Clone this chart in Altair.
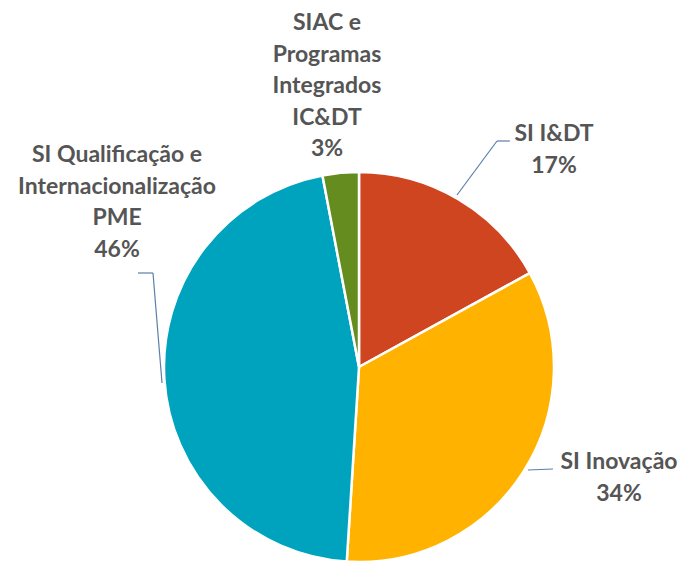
import altair as alt
import pandas as pd

# ---- data ----
categories = ["SI I&DT", "SI Inovação", "SI Qualificação e Internacionalização PME",
              "SIAC e Programas Integrados IC&DT"]
label_lines = [["SI I&DT"], ["SI Inovação"],
               ["SI Qualificação e", "Internacionalização", "PME"],
               ["SIAC e", "Programas", "Integrados", "IC&DT"]]
values = [17, 34, 46, 3]
colors = ["#CF4520", "#FFB300", "#00A3BE", "#648C1E"]

# ---- layout (pixel positions inside the chart; y = first line) ----
W, H = 670, 554
CX, CY, R = 351, 359, 195
label_pos = [(546, 126), (611, 454), (109, 147), (319, 15)]
leaders = [
    [(449, 187), (489, 133), (502, 133)],
    [(520, 462), (545, 461)],
    [(154, 375), (145, 265), (130, 265)],
    [],
]

pie_df = pd.DataFrame({"cat": categories, "value": values, "order": list(range(len(values)))})
lab_df = pd.DataFrame({
    "cat": categories,
    "text": ["\n".join(l + [f"{v}%"]) for l, v in zip(label_lines, values)],
    "x": [p[0] for p in label_pos],
    "y": [p[1] for p in label_pos],
})
seg_rows = []
for cat, pts in zip(categories, leaders):
    for i in range(len(pts) - 1):
        seg_rows.append({"cat": cat, "x": pts[i][0], "y": pts[i][1],
                         "x2": pts[i + 1][0], "y2": pts[i + 1][1]})
seg_df = pd.DataFrame(seg_rows)

pie = alt.Chart(pie_df).mark_arc(outerRadius=R, stroke="white", strokeWidth=2.5).encode(
    theta=alt.Theta("value:Q", stack=True),
    order=alt.Order("order:Q"),
    color=alt.Color("cat:N", scale=alt.Scale(domain=categories, range=colors), legend=None),
    x=alt.value(CX),
    y=alt.value(CY),
)

lines = alt.Chart(seg_df).mark_rule(color="#5A7FA8", strokeWidth=1.2).encode(
    x=alt.X("x:Q", scale=None),
    y=alt.Y("y:Q", scale=None),
    x2="x2:Q",
    y2="y2:Q",
)

labels = alt.Chart(lab_df).mark_text(
    lineBreak="\n", lineHeight=31.5, font="Lato", fontSize=23, fontWeight="bold",
    color="#555555", align="center", baseline="middle",
).encode(
    x=alt.X("x:Q", scale=None),
    y=alt.Y("y:Q", scale=None),
    text="text:N",
)

chart = alt.layer(pie, lines, labels).properties(
    width=W, height=H, padding=0, autosize=alt.AutoSizeParams(type="none")
).configure_view(stroke=None)

chart.save("out.html", embed_options={"renderer": "svg", "actions": False})
